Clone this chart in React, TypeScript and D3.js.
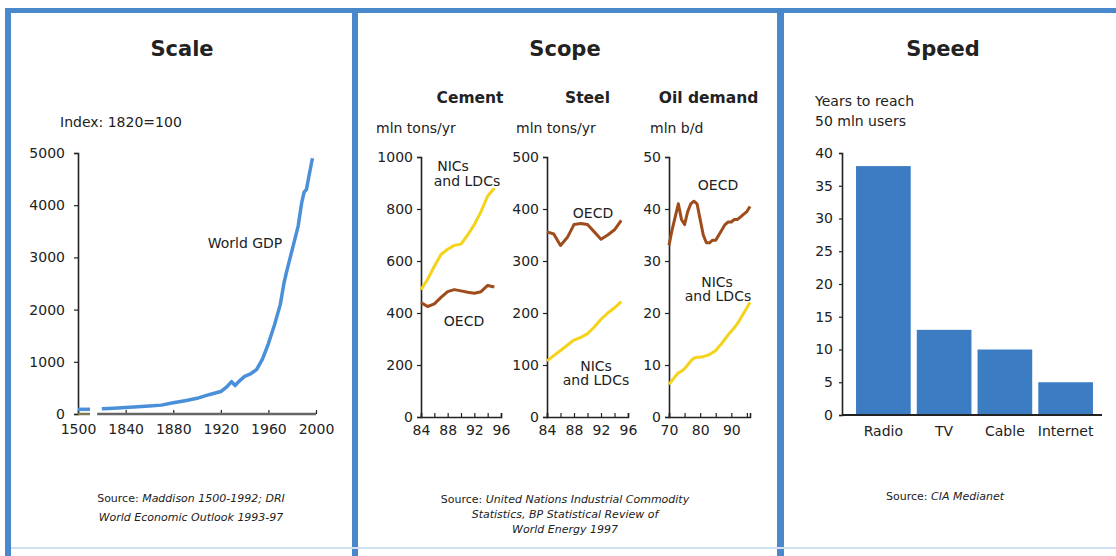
import * as d3 from "d3";
import { useEffect, useRef } from "react";

// Scale: world GDP index, 1820 = 100 (1500 shown on a broken axis)
const gdp1500 = 90;
const gdpYears = [1820, 1830, 1840, 1850, 1860, 1870, 1880, 1890, 1900, 1910, 1920, 1925, 1929, 1932, 1935, 1940, 1945, 1950, 1955, 1960, 1965, 1970, 1973, 1975, 1980, 1985, 1988, 1990, 1992, 1994, 1997];
const gdpIndex = [100, 112, 125, 140, 155, 170, 215, 255, 300, 370, 430, 520, 620, 545, 620, 720, 770, 850, 1050, 1350, 1700, 2100, 2500, 2700, 3150, 3600, 4050, 4250, 4300, 4550, 4900];
const gdpTicks = [1500, 1840, 1880, 1920, 1960, 2000];

// Scope
const cementYears = [84, 85, 86, 87, 88, 89, 90, 91, 92, 93, 94, 95];
const cementNics = [490, 530, 580, 625, 645, 660, 665, 700, 740, 790, 850, 880];
const cementOecd = [440, 425, 435, 460, 482, 490, 485, 480, 476, 482, 506, 500];

const steelYears = [84, 85, 86, 87, 88, 89, 90, 91, 92, 93, 94, 95];
const steelOecd = [356, 352, 330, 345, 370, 372, 370, 356, 342, 350, 360, 378];
const steelNics = [108, 118, 128, 138, 148, 153, 160, 173, 188, 200, 210, 222];

const oilYears = [70, 71, 72, 73, 74, 75, 76, 77, 78, 79, 80, 81, 82, 83, 84, 85, 86, 87, 88, 89, 90, 91, 92, 93, 94, 95, 96];
const oilOecd = [33, 36, 38.5, 41, 38, 37, 39.5, 41, 41.5, 41, 38, 35, 33.5, 33.5, 34, 34, 35, 36, 37, 37.5, 37.5, 38, 38, 38.5, 39, 39.5, 40.5];
const oilNics = [6.3, 7, 7.8, 8.5, 8.8, 9.3, 10, 10.8, 11.3, 11.5, 11.5, 11.6, 11.8, 12, 12.4, 12.8, 13.5, 14.2, 15, 15.8, 16.5, 17.2, 18, 19, 20, 21, 22];

// Speed
const mediaNames = ["Radio", "TV", "Cable", "Internet"];
const mediaYears = [38, 13, 10, 5];

const FRAME = "#4a88cc";
const INK = "#222";
const YELLOW = "#f5d31a";
const BROWN = "#9e4c1c";
const FONT = "DejaVu Sans, sans-serif";

export default function App() {
  const svgRef = useRef(null);

  useEffect(() => {
    const svg = d3.select(svgRef.current);
    svg.selectAll("*").remove();
    svg.attr("font-family", FONT);

    const styleAxis = (g, size = 14) => {
      g.attr("font-family", FONT).attr("font-size", size);
      g.selectAll(".tick text").attr("fill", INK);
      g.selectAll(".tick line").attr("stroke", INK).attr("stroke-width", 1.2);
      g.select(".domain").attr("stroke", INK).attr("stroke-width", 1.6);
    };

    const text = (x, y, s, opts = {}) =>
      svg
        .append("text")
        .attr("x", x)
        .attr("y", y)
        .attr("text-anchor", opts.anchor || "middle")
        .attr("font-size", opts.size || 14)
        .attr("font-weight", opts.bold ? "bold" : "normal")
        .attr("font-style", opts.italic ? "italic" : "normal")
        .attr("fill", INK)
        .text(s);

    // frame
    const frame = svg.append("g").attr("fill", FRAME);
    frame.append("rect").attr("x", 5).attr("y", 8).attr("width", 1111).attr("height", 5);
    frame.append("rect").attr("x", 5).attr("y", 8).attr("width", 6).attr("height", 548);
    frame.append("rect").attr("x", 352).attr("y", 8).attr("width", 6).attr("height", 548);
    frame.append("rect").attr("x", 777).attr("y", 8).attr("width", 7).attr("height", 548);
    svg.append("rect").attr("x", 11).attr("y", 547).attr("width", 1105).attr("height", 2).attr("fill", "#cfe0f2");

    // ---------- Scale ----------
    text(182, 56, "Scale", { size: 21, bold: true });
    text(60, 127, "Index: 1820=100", { anchor: "start" });

    const gx = d3.scaleLinear().domain([1500, 1510, 1810, 2000]).range([78, 90, 90, 316]);
    const gy = d3.scaleLinear().domain([0, 5000]).range([414, 153]);

    const gYAxis = svg
      .append("g")
      .attr("transform", "translate(78,0)")
      .call(d3.axisLeft(gy).tickValues([0, 1000, 2000, 3000, 4000, 5000]).tickSize(4).tickPadding(9).tickFormat(d3.format("d")));
    styleAxis(gYAxis);

    const gXAxis = svg
      .append("g")
      .attr("transform", "translate(0,414)")
      .call(d3.axisBottom(gx).tickValues(gdpTicks).tickSize(-4).tickPadding(10).tickFormat(d3.format("d")));
    styleAxis(gXAxis);
    gXAxis.select(".domain").remove();
    svg.append("line").attr("x1", gx(1500)).attr("x2", gx(1510)).attr("y1", 414).attr("y2", 414).attr("stroke", "#7a7a55").attr("stroke-width", 2.5);
    svg.append("line").attr("x1", gx(1816)).attr("x2", gx(2000)).attr("y1", 414).attr("y2", 414).attr("stroke", "#666").attr("stroke-width", 2.5);

    svg
      .append("line")
      .attr("x1", gx(1500))
      .attr("x2", gx(1510))
      .attr("y1", gy(gdp1500))
      .attr("y2", gy(gdp1500))
      .attr("stroke", "#4a90d9")
      .attr("stroke-width", 3.5);

    const gdpLine = d3
      .line()
      .x((d) => gx(d[0]))
      .y((d) => gy(d[1]));
    svg
      .append("path")
      .datum(gdpYears.map((y, i) => [y, gdpIndex[i]]))
      .attr("d", gdpLine)
      .attr("fill", "none")
      .attr("stroke", "#4a90d9")
      .attr("stroke-width", 3.5)
      .attr("stroke-linejoin", "round");
    text(245, 248, "World GDP");

    const src1 = text(191, 502, "", { size: 11 });
    src1.append("tspan").text("Source: ");
    src1.append("tspan").attr("font-style", "italic").text("Maddison 1500-1992; DRI");
    text(191, 521, "World Economic Outlook 1993-97", { size: 11, italic: true });

    // ---------- Scope ----------
    text(565, 56, "Scope", { size: 21, bold: true });

    const mini = (cfg) => {
      const x = d3.scaleLinear().domain(cfg.xDomain).range(cfg.xRange);
      const y = d3.scaleLinear().domain(cfg.yDomain).range([417, 157]);
      text((cfg.xRange[0] + cfg.xRange[1]) / 2 + cfg.titleDx, 103, cfg.title, { size: 15.5, bold: true });
      text(cfg.unitX, 133, cfg.unit, { anchor: "start" });

      const ya = svg
        .append("g")
        .attr("transform", `translate(${cfg.xRange[0]},0)`)
        .call(d3.axisLeft(y).tickValues(cfg.yTicks).tickSize(4).tickPadding(4).tickFormat(d3.format("d")));
      styleAxis(ya);
      const xa = svg
        .append("g")
        .attr("transform", "translate(0,417)")
        .call(
          d3
            .axisBottom(x)
            .tickValues(cfg.xTicks)
            .tickSize(-4)
            .tickPadding(8)
            .tickFormat((d) => (cfg.xLabels.includes(d) ? String(d) : ""))
        );
      styleAxis(xa);

      const ln = d3
        .line()
        .x((d) => x(d[0]))
        .y((d) => y(d[1]));
      cfg.series.forEach((s) => {
        svg
          .append("path")
          .datum(cfg.years.map((yr, i) => [yr, s.values[i]]))
          .attr("d", ln)
          .attr("fill", "none")
          .attr("stroke", s.color)
          .attr("stroke-width", 3)
          .attr("stroke-linejoin", "round");
      });
      cfg.labels.forEach((l) => text(l[0], l[1], l[2]));
    };

    mini({
      title: "Cement",
      titleDx: 9,
      unit: "mln tons/yr",
      unitX: 376,
      xDomain: [84, 96],
      xRange: [421, 501],
      yDomain: [0, 1000],
      yTicks: [0, 200, 400, 600, 800, 1000],
      xTicks: [84, 86, 88, 90, 92, 94, 96],
      xLabels: [84, 88, 92, 96],
      years: cementYears,
      series: [
        { values: cementNics, color: YELLOW },
        { values: cementOecd, color: BROWN },
      ],
      labels: [
        [453, 171, "NICs"],
        [467, 186, "and LDCs"],
        [464, 326, "OECD"],
      ],
    });

    mini({
      title: "Steel",
      titleDx: 0,
      unit: "mln tons/yr",
      unitX: 516,
      xDomain: [84, 96],
      xRange: [547, 628],
      yDomain: [0, 500],
      yTicks: [0, 100, 200, 300, 400, 500],
      xTicks: [84, 86, 88, 90, 92, 94, 96],
      xLabels: [84, 88, 92, 96],
      years: steelYears,
      series: [
        { values: steelOecd, color: BROWN },
        { values: steelNics, color: YELLOW },
      ],
      labels: [
        [593, 218, "OECD"],
        [596, 371, "NICs"],
        [596, 385, "and LDCs"],
      ],
    });

    mini({
      title: "Oil demand",
      titleDx: -1,
      unit: "mln b/d",
      unitX: 650,
      xDomain: [70, 96],
      xRange: [669, 750],
      yDomain: [0, 50],
      yTicks: [0, 10, 20, 30, 40, 50],
      xTicks: [70, 75, 80, 85, 90, 95],
      xLabels: [70, 80, 90],
      years: oilYears,
      series: [
        { values: oilOecd, color: BROWN },
        { values: oilNics, color: YELLOW },
      ],
      labels: [
        [718, 190, "OECD"],
        [717, 287, "NICs"],
        [718, 301, "and LDCs"],
      ],
    });

    const src2 = text(565, 503, "", { size: 11 });
    src2.append("tspan").text("Source: ");
    src2.append("tspan").attr("font-style", "italic").text("United Nations Industrial Commodity");
    text(565, 518, "Statistics, BP Statistical Review of", { size: 11, italic: true });
    text(565, 533, "World Energy 1997", { size: 11, italic: true });

    // ---------- Speed ----------
    text(943, 56, "Speed", { size: 21, bold: true });
    text(815, 106, "Years to reach", { anchor: "start" });
    text(815, 126, "50 mln users", { anchor: "start" });

    const bx = d3.scaleBand().domain(mediaNames).range([853, 1096]).paddingInner(0.1).paddingOuter(0.05);
    const by = d3.scaleLinear().domain([0, 40]).range([415, 153]);

    const sYAxis = svg
      .append("g")
      .attr("transform", "translate(842,0)")
      .call(d3.axisLeft(by).tickValues(d3.range(0, 41, 5)).tickSize(3).tickPadding(6));
    styleAxis(sYAxis);

    svg
      .append("g")
      .selectAll("rect")
      .data(mediaNames)
      .join("rect")
      .attr("x", (d) => bx(d))
      .attr("y", (d, i) => by(mediaYears[i]))
      .attr("width", bx.bandwidth())
      .attr("height", (d, i) => by(0) - by(mediaYears[i]))
      .attr("fill", "#3c7cc3");

    svg.append("line").attr("x1", 842).attr("x2", 1102).attr("y1", 415).attr("y2", 415).attr("stroke", INK).attr("stroke-width", 2);

    mediaNames.forEach((m) => text(bx(m) + bx.bandwidth() / 2, 436, m));

    const src3 = text(945, 500, "", { size: 11 });
    src3.append("tspan").text("Source: ");
    src3.append("tspan").attr("font-style", "italic").text("CIA Medianet");
  }, []);

  return (
    <svg
      ref={svgRef}
      width={1116}
      height={556}
      style={{ position: "absolute", left: 0, top: 0, background: "#fff" }}
    ></svg>
  );
}
